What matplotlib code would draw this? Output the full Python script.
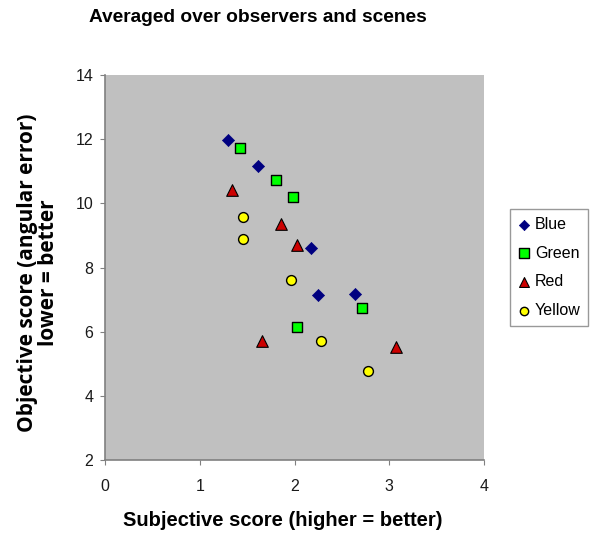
import matplotlib
matplotlib.use('Agg')
import matplotlib.pyplot as plt

# Scores
blue_x = [1.30, 1.61, 2.17, 2.25, 2.64]
blue_y = [11.96, 11.15, 8.61, 7.14, 7.17]
green_x = [1.42, 1.81, 1.98, 2.03, 2.71]
green_y = [11.73, 10.72, 10.21, 6.14, 6.75]
red_x = [1.34, 1.86, 2.03, 1.66, 3.07]
red_y = [10.42, 9.35, 8.71, 5.72, 5.53]
yellow_x = [1.46, 1.46, 1.96, 2.28, 2.78]
yellow_y = [9.56, 8.88, 7.61, 5.71, 4.77]

x_ticks = [0, 1, 2, 3, 4]
y_ticks = [2, 4, 6, 8, 10, 12, 14]

plt.rcParams['font.family'] = ['Liberation Sans', 'DejaVu Sans']

W, H = 591, 533
fig = plt.figure(figsize=(W / 100, H / 100), dpi=100)
ax = fig.add_axes([105 / W, 1 - 460 / H, 379 / W, 385 / H])
ax.set_facecolor('#c0c0c0')

ax.scatter(blue_x, blue_y, marker='D', s=38, color='#000080', edgecolors='#000080',
           linewidths=0.5, label='Blue', zorder=3)
ax.scatter(green_x, green_y, marker='s', s=60, color='#00ff00', edgecolors='black',
           linewidths=1.0, label='Green', zorder=3)
ax.scatter(red_x, red_y, marker='^', s=70, color='#cc0000', edgecolors='black',
           linewidths=0.8, label='Red', zorder=3)
ax.scatter(yellow_x, yellow_y, marker='o', s=50, color='#ffff00', edgecolors='black',
           linewidths=1.0, label='Yellow', zorder=3)

ax.set_xlim(0, 4)
ax.set_ylim(2, 14)
ax.set_xticks(x_ticks)
ax.set_yticks(y_ticks)
ax.tick_params(direction='out', length=3.5, color='#808080', labelsize=11.5,
               labelcolor='#1a1a1a')
ax.tick_params(axis='y', pad=5)
ax.tick_params(axis='x', pad=10)

for side in ['top', 'right']:
    ax.spines[side].set_visible(False)
for side in ['left', 'bottom']:
    ax.spines[side].set_color('#808080')
    ax.spines[side].set_linewidth(1.2)

fig.text(258 / W, 1 - 18 / H, 'Averaged over observers and scenes', fontsize=13.8,
         fontweight='bold', ha='center', va='center')
fig.text(283 / W, 1 - 521 / H, 'Subjective score (higher = better)', fontsize=14.5,
         fontweight='bold', ha='center', va='center')
fig.text(38 / W, 1 - 273 / H, 'Objective score (angular error)\nlower = better',
         fontsize=15, fontweight='bold', family=['Open Sans', 'DejaVu Sans'],
         rotation=90, ha='center', va='center', multialignment='center',
         linespacing=1.05)

leg = ax.legend(loc='upper left', bbox_to_anchor=(510 / W, 1 - 209 / H),
                bbox_transform=fig.transFigure, frameon=True, fancybox=False,
                edgecolor='#808080', fontsize=11.5, handletextpad=0.35,
                labelspacing=0.85, borderpad=0.5, borderaxespad=0,
                handlelength=0.7, scatterpoints=1, markerscale=0.85)
leg.get_frame().set_linewidth(1.0)

fig.savefig('out.png', dpi=100, facecolor='white')
